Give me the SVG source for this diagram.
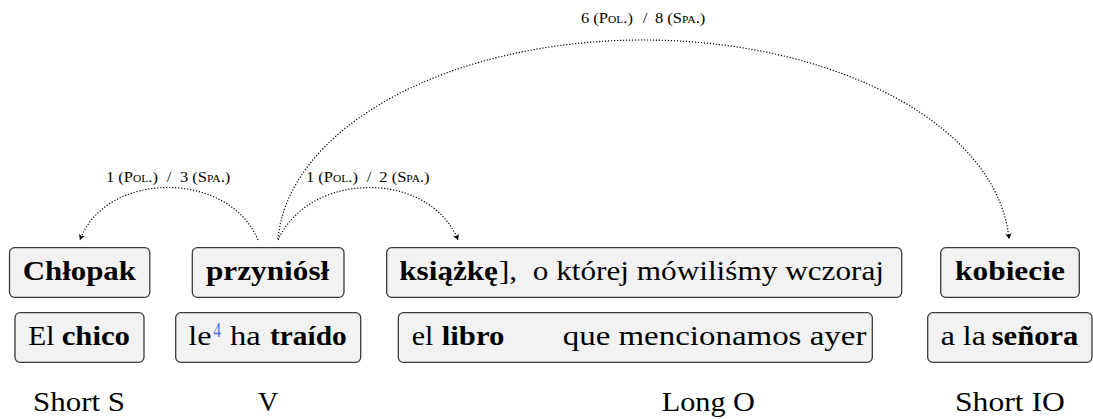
<svg xmlns="http://www.w3.org/2000/svg" width="1093" height="419" viewBox="0 0 1093 419" font-family="Liberation Serif">
<style>
.box{fill:#f2f2f2;stroke:#3a3a3a;stroke-width:1.3}
.t{font-size:28px;fill:#000}
.b{font-weight:bold}
.lbl{font-size:15px;font-variant:small-caps;fill:#000}
.sup{font-size:20px;fill:#4f73e3}
.arc{fill:none;stroke:#000;stroke-width:1.2;stroke-dasharray:1.2 1.8;marker-end:url(#ah)}
</style>
<defs>
<marker id="ah" markerUnits="userSpaceOnUse" markerWidth="10" markerHeight="10" refX="0" refY="0" viewBox="-7 -5 9 10" orient="auto">
<path d="M-5.5,-3.2 L0,0 L-5.5,3.2 L-4,0 Z" fill="#000"/>
</marker>
</defs>
<g id="connectors" font-family="Liberation Serif">
<path class="arc" d="M258,240 C229,170 106,170 80,240"/>
<path class="arc" d="M278,240 C310,170 430,170 458,240"/>
<path class="arc" d="M278,239 A366,210 0 0 1 1009,239"/>
<text class="lbl" font-family="Liberation Serif" transform="translate(106,182) scale(1.1,1)">1 (Pol.)</text>
<text class="lbl" font-family="Liberation Serif" transform="translate(166.7,182) scale(1.1,1)">/</text>
<text class="lbl" font-family="Liberation Serif" transform="translate(180,182) scale(1.1,1)">3 (Spa.)</text>
<text class="lbl" font-family="Liberation Serif" transform="translate(306,182) scale(1.1,1)">1 (Pol.)</text>
<text class="lbl" font-family="Liberation Serif" transform="translate(366.7,182) scale(1.1,1)">/</text>
<text class="lbl" font-family="Liberation Serif" transform="translate(379.3,182) scale(1.1,1)">2 (Spa.)</text>
<text class="lbl" font-family="Liberation Serif" transform="translate(581,23) scale(1.1,1)">6 (Pol.)</text>
<text class="lbl" font-family="Liberation Serif" transform="translate(642.7,23) scale(1.1,1)">/</text>
<text class="lbl" font-family="Liberation Serif" transform="translate(655,23) scale(1.1,1)">8 (Spa.)</text>
</g>
<g id="n-chlopak" font-family="Liberation Serif">
<rect class="box" x="9.5" y="247.7" width="140.3" height="49.6" rx="5"/>
<text class="t b" font-family="Liberation Serif" transform="translate(22.7,280) scale(1.103,1)">Chłopak</text>
</g>
<g id="n-przyniosl" font-family="Liberation Serif">
<rect class="box" x="192.3" y="247.7" width="151.7" height="49.6" rx="5"/>
<text class="t b" font-family="Liberation Serif" transform="translate(206,280) scale(1.116,1)">przyniósł</text>
</g>
<g id="n-ksiazke" font-family="Liberation Serif">
<rect class="box" x="386.7" y="247.7" width="515" height="49.6" rx="5"/>
<text class="t b" font-family="Liberation Serif" transform="translate(399.3,280) scale(1.113,1)">książkę</text>
<text class="t" font-family="Liberation Serif" transform="translate(499,280) scale(1.11,1)">],</text>
<text class="t" font-family="Liberation Serif" transform="translate(532.7,280) scale(1.116,1)">o której mówiliśmy wczoraj</text>
</g>
<g id="n-kobiecie" font-family="Liberation Serif">
<rect class="box" x="940.7" y="247.7" width="138.6" height="49.6" rx="5"/>
<text class="t b" font-family="Liberation Serif" transform="translate(955,280) scale(1.122,1)">kobiecie</text>
</g>
<g id="n-elchico" font-family="Liberation Serif">
<rect class="box" x="15" y="312.7" width="129" height="49.6" rx="5"/>
<text class="t" font-family="Liberation Serif" transform="translate(28.3,345) scale(1.05,1)">El</text>
<text class="t b" font-family="Liberation Serif" transform="translate(61.7,345) scale(1.098,1)">chico</text>
</g>
<g id="n-letraido" font-family="Liberation Serif">
<rect class="box" x="175.7" y="312.7" width="185" height="49.6" rx="5"/>
<text class="t" font-family="Liberation Serif" transform="translate(188.3,345) scale(1.15,1)">le</text>
<text class="sup" font-family="Liberation Serif" transform="translate(213.3,336.7) scale(0.78,1)">4</text>
<text class="t" font-family="Liberation Serif" transform="translate(230,345) scale(1.16,1)">ha</text>
<text class="t b" font-family="Liberation Serif" transform="translate(270,345) scale(1.05,1)">traído</text>
</g>
<g id="n-ellibro" font-family="Liberation Serif">
<rect class="box" x="398.3" y="312.7" width="474" height="49.6" rx="5"/>
<text class="t" font-family="Liberation Serif" transform="translate(411.7,345) scale(1.07,1)">el</text>
<text class="t b" font-family="Liberation Serif" transform="translate(441.7,345) scale(1.1,1)">libro</text>
<text class="t" font-family="Liberation Serif" transform="translate(562.7,345) scale(1.177,1)">que mencionamos ayer</text>
</g>
<g id="n-senora" font-family="Liberation Serif">
<rect class="box" x="927.7" y="312.7" width="164.3" height="49.6" rx="5"/>
<text class="t" font-family="Liberation Serif" transform="translate(940.7,345) scale(1.14,1)">a la</text>
<text class="t b" font-family="Liberation Serif" transform="translate(991.7,345) scale(1.092,1)">señora</text>
</g>
<g id="labels" font-family="Liberation Serif">
<text class="t" font-family="Liberation Serif" transform="translate(33,410.7) scale(1.106,1)">Short S</text>
<text class="t" font-family="Liberation Serif" transform="translate(258,410.7)">V</text>
<text class="t" font-family="Liberation Serif" transform="translate(661.7,410.7) scale(1.08,1)">Long O</text>
<text class="t" font-family="Liberation Serif" transform="translate(955,410.7) scale(1.13,1)">Short IO</text>
</g>
</svg>
